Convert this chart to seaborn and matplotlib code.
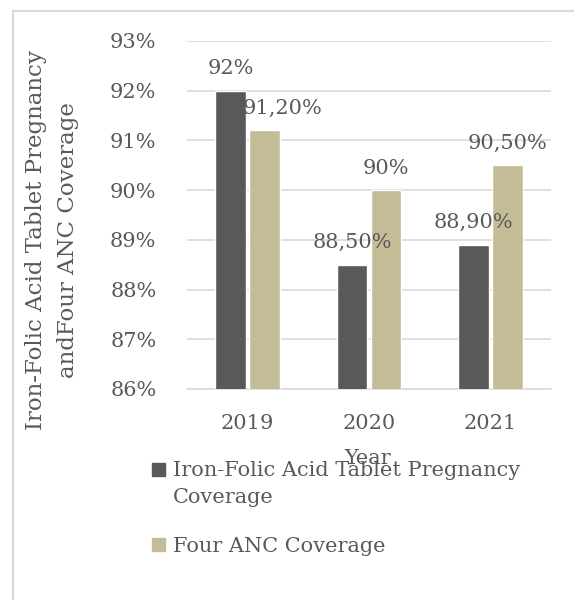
import matplotlib
matplotlib.use("Agg")
import matplotlib.pyplot as plt
import matplotlib.patches as mpatches
import matplotlib.lines as mlines
from matplotlib.legend_handler import HandlerPatch
import pandas as pd
import seaborn as sns

# data
years = ["2019", "2020", "2021"]
iron_folic = [92.0, 88.5, 88.9]
four_anc = [91.2, 90.0, 90.5]
iron_labels = ["92%", "88,50%", "88,90%"]
anc_labels = ["91,20%", "90%", "90,50%"]
series_names = ["Iron-Folic Acid Tablet Pregnancy\nCoverage", "Four ANC Coverage"]
y_ticks = [86, 87, 88, 89, 90, 91, 92, 93]

sns.set_style("white")
plt.rcParams['font.family'] = ['DejaVu Serif']
TXT = "#595959"
DARK = "#595959"
TAN = "#C4BC96"
FS = 15

df = pd.DataFrame({
    "year": years * 2,
    "value": iron_folic + four_anc,
    "series": [series_names[0]] * 3 + [series_names[1]] * 3,
})

fig = plt.figure(figsize=(5.74, 6.0), dpi=100)
ax = fig.add_axes([187 / 574, 1 - 389 / 600, 364 / 574, 348 / 600])

sns.barplot(data=df, x="year", y="value", hue="series", order=years,
            hue_order=series_names, palette=[DARK, TAN], width=0.56, gap=0.1,
            saturation=1, ax=ax, legend=False, zorder=3)

ax.set_ylim(86, 93)
ax.set_yticks(y_ticks)
ax.set_yticklabels([f"{t}%" for t in y_ticks])
ax.yaxis.grid(True, color="#d9d9d9", linewidth=1.2, zorder=0)
ax.xaxis.grid(False)
for s in ["top", "right", "left"]:
    ax.spines[s].set_visible(False)
ax.spines["bottom"].set_color("#d9d9d9")
ax.spines["bottom"].set_linewidth(1.2)
ax.tick_params(axis="both", length=0, labelsize=FS, labelcolor=TXT)
ax.tick_params(axis="y", pad=22)
ax.tick_params(axis="x", pad=18)
ax.set_xlabel("")
ax.set_ylabel("")

# data labels above bars
bars_iron = ax.containers[0]
bars_anc = ax.containers[1]
offsets_iron = [0, 0, 0]
offsets_anc = [13, 0, 0]
for bars, labels, offs in [(bars_iron, iron_labels, offsets_iron), (bars_anc, anc_labels, offsets_anc)]:
    for b, lab, dx in zip(bars, labels, offs):
        ax.annotate(lab, xy=(b.get_x() + b.get_width() / 2, b.get_height()),
                    xytext=(dx, 9), textcoords="offset points", ha="center",
                    va="bottom", fontsize=FS, color=TXT, annotation_clip=False)

fig.text(52 / 574, 1 - 240 / 600,
         "Iron-Folic Acid Tablet Pregnancy\nandFour ANC Coverage",
         rotation=90, ha="center", va="center", multialignment="center",
         fontsize=16.5, color=TXT, linespacing=1.55)
fig.text(368 / 574, 1 - 458 / 600, "Year", ha="center", va="center",
         fontsize=FS, color=TXT)


# legend square sits next to the first text line, not the middle of the label
def square_up(shift):
    def make(legend, orig_handle, xdescent, ydescent, width, height, fontsize):
        return mpatches.Rectangle((-xdescent, -ydescent + shift), width, height)
    return make


h_iron = mpatches.Patch(color=DARK)
h_anc = mpatches.Patch(color=TAN)
leg = fig.legend([h_iron, h_anc], series_names, loc="upper left",
                 bbox_to_anchor=(142 / 574, 1 - 451 / 600), frameon=False,
                 fontsize=FS, handlelength=0.6, handleheight=0.6,
                 handletextpad=0.4, labelspacing=1.45, borderpad=0,
                 handler_map={h_iron: HandlerPatch(patch_func=square_up(10.5)),
                              h_anc: HandlerPatch(patch_func=square_up(0))})
for t in leg.get_texts():
    t.set_color(TXT)
    t.set_linespacing(1.5)

# light frame lines visible on the top and left of the reference
fig.add_artist(mlines.Line2D([13 / 574, 1], [1 - 11 / 600, 1 - 11 / 600],
                             color="#d9d9d9", linewidth=1.5))
fig.add_artist(mlines.Line2D([13 / 574, 13 / 574], [0, 1 - 11 / 600],
                             color="#d9d9d9", linewidth=1.5))

fig.savefig("out.png", dpi=100)
